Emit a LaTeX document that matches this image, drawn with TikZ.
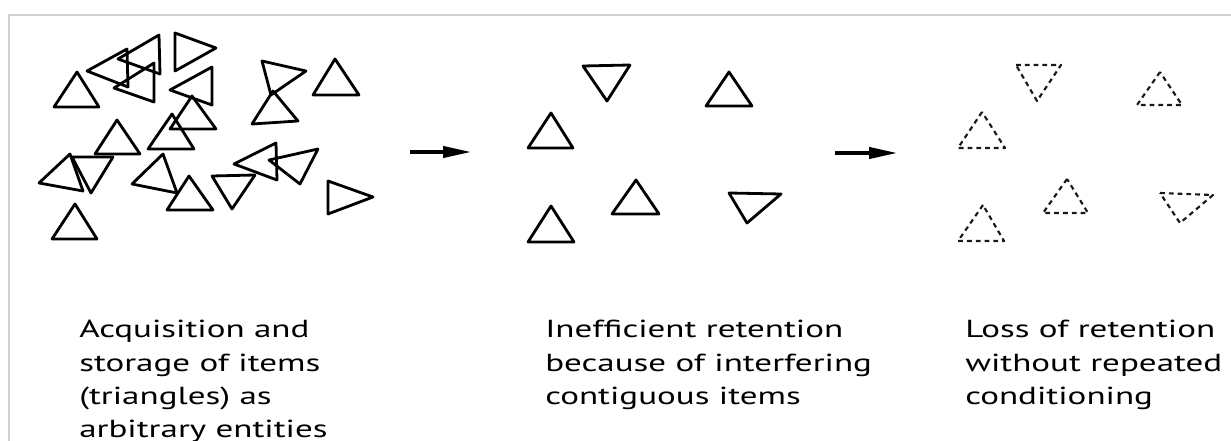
\documentclass[tikz,border=0pt]{standalone}
\usepackage{fontspec}
\setmainfont{PT Sans}[FakeStretch=1.42]
\usetikzlibrary{arrows.meta}
\begin{document}
\begin{tikzpicture}[x=0.75pt,y=-0.75pt,
  tri/.style={draw=black,line width=2.1pt,line join=round},
  dtri/.style={draw=black!90,line width=1.6pt,dash pattern=on 3.6pt off 3pt,line join=round},
  arr/.style={draw=black,line width=2.3pt,-{Triangle[length=21pt,width=8.5pt]}},
  frame/.style={draw=black!18,line width=1.3pt},
  caption/.style={anchor=base west,inner sep=0pt,font=\fontsize{18.5}{25}\selectfont}]
\clip (0,0) rectangle (1231,441);
\fill[white] (0,0) rectangle (1231,441);
% frame
\coordinate (fb) at (9,441);
\coordinate (fc) at (9,15);
\coordinate (fr) at (1231,15);
\draw[frame] (fb) -- (fc) -- (fr);
% left cluster
\draw[tri] (77,72) -- (54,107) -- (99,107) -- cycle;
\draw[tri] (87,71) -- (127,49) -- (128,87) -- cycle;
\draw[tri] (118,59) -- (159,35) -- (160,74) -- cycle;
\draw[tri] (114,88) -- (154,63) -- (154,102) -- cycle;
\draw[tri] (175,33) -- (175,71) -- (216,48) -- cycle;
\draw[tri] (170,90) -- (212,67) -- (212,105) -- cycle;
\draw[tri] (192,96) -- (170,129) -- (216,129) -- cycle;
\draw[tri] (172,114) -- (148,149) -- (194,149) -- cycle;
\draw[tri] (117,120) -- (95,154) -- (140,154) -- cycle;
\draw[tri] (262,61) -- (306,71) -- (271,95) -- cycle;
\draw[tri] (273,91) -- (252,124) -- (298,121) -- cycle;
\draw[tri] (335,59) -- (313,95) -- (359,95) -- cycle;
\draw[tri] (70,154) -- (39,183) -- (83,191) -- cycle;
\draw[tri] (72,157) -- (113,157) -- (91,193) -- cycle;
\draw[tri] (75,204) -- (52,239) -- (97,239) -- cycle;
\draw[tri] (163,154) -- (132,184) -- (177,193) -- cycle;
\draw[tri] (189,176) -- (167,210) -- (213,210) -- cycle;
\draw[tri] (212,176) -- (255,175) -- (232,209) -- cycle;
\draw[tri] (234,164) -- (276,143) -- (277,180) -- cycle;
\draw[tri] (269,160) -- (318,149) -- (300,184) -- cycle;
\draw[tri] (328,181) -- (328,214) -- (373,197) -- cycle;
% arrows
\coordinate (a1s) at (410,152);
\coordinate (a1e) at (471,152);
\coordinate (a2s) at (835,153);
\coordinate (a2e) at (897,153);
\draw[arr] (a1s) -- (a1e);
\draw[arr] (a2s) -- (a2e);
% middle group
\draw[tri] (583,66) -- (630,65) -- (607,101) -- cycle;
\draw[tri] (729,72) -- (706,106) -- (752,106) -- cycle;
\draw[tri] (551,113) -- (528,148) -- (573,148) -- cycle;
\draw[tri] (636,180) -- (612,214) -- (659,214) -- cycle;
\draw[tri] (551,206) -- (528,242) -- (574,242) -- cycle;
\draw[tri] (729,193) -- (781,194) -- (747,223) -- cycle;
% right group (dashed)
\draw[dtri] (1016,65) -- (1061,65) -- (1037,101) -- cycle;
\draw[dtri] (1160,72) -- (1137,105) -- (1182,105) -- cycle;
\draw[dtri] (982,112) -- (958,148) -- (1005,148) -- cycle;
\draw[dtri] (1067,179) -- (1043,213) -- (1088,213) -- cycle;
\draw[dtri] (983,205) -- (958,241) -- (1004,241) -- cycle;
\draw[dtri] (1160,193) -- (1213,195) -- (1180,223) -- cycle;
% captions
\node[caption] (c1) at (79,338) {\begin{tabular}[t]{@{}l@{}}Acquisition and\\ storage of items\\ (triangles) as\\ arbitrary entities\end{tabular}};
\node[caption] (c2) at (545,338) {\begin{tabular}[t]{@{}l@{}}Inefficient retention\\ because of interfering\\ contiguous items\end{tabular}};
\node[caption] (c3) at (965,338) {\begin{tabular}[t]{@{}l@{}}Loss of retention\\ without repeated\\ conditioning\end{tabular}};
\end{tikzpicture}
\end{document}
